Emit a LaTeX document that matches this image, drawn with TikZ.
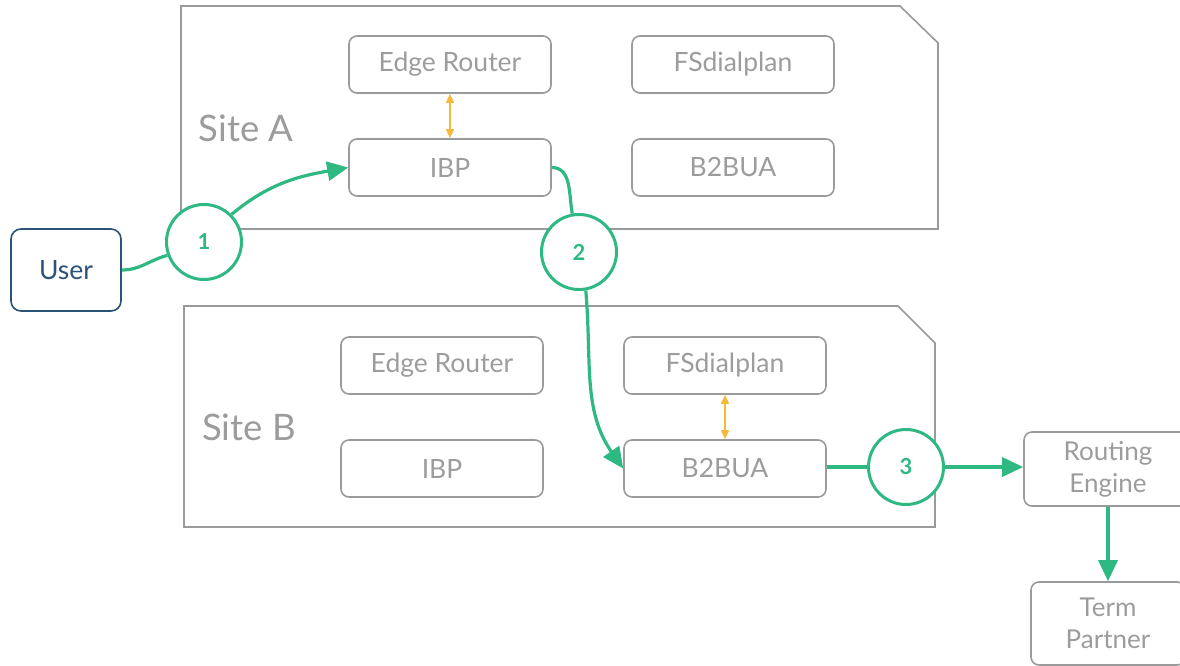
\documentclass[tikz,border=0pt]{standalone}
\usepackage{fontspec}
\setmainfont{Lato}
\usetikzlibrary{arrows.meta}
\definecolor{boxgray}{HTML}{9A9A9A}
\definecolor{txtgray}{HTML}{9C9C9C}
\definecolor{grn}{HTML}{2EB882}
\definecolor{org}{HTML}{F6B93B}
\definecolor{usr}{HTML}{2B5278}
\tikzset{
  comp/.style={draw=boxgray, line width=1.6pt, rounded corners=8pt, minimum width=202pt, minimum height=57pt, inner sep=0pt, text=txtgray, font=\fontsize{26.5}{30}\selectfont, align=center},
  ext/.style={draw=boxgray, line width=1.6pt, rounded corners=8pt, minimum width=168pt, minimum height=74pt, inner sep=0pt, text=txtgray, font=\fontsize{26}{32}\selectfont, align=center},
  site/.style={draw=boxgray, line width=1.6pt},
  sitelbl/.style={text=txtgray, font=\fontsize{36.5}{40}\selectfont, inner sep=0pt},
  step circ/.style={draw=grn, circle, line width=3pt, minimum size=75pt, inner sep=0pt, text=grn, font=\bfseries\fontsize{22}{24}\selectfont, fill=white},
  flow/.style={draw=grn, line width=3.2pt},
  flowarr/.style={draw=grn, line width=3.2pt, -{Triangle[length=21pt,width=19pt]}},
  biarr/.style={draw=org, line width=1.6pt, {Triangle[length=9pt,width=8pt]}-{Triangle[length=9pt,width=8pt]}}
}
\begin{document}
\begin{tikzpicture}[x=1pt,y=-1pt]
\useasboundingbox (0,0) rectangle (1180,665);
% sites
\draw[site] (181,6) -- (900,6) -- (938,43) -- (938,229) -- (181,229) -- cycle;
\draw[site] (184,306) -- (898,306) -- (935,343) -- (935,527) -- (184,527) -- cycle;
\node[sitelbl] (sa) at (246,128) {Site A};
\node[sitelbl] (sb) at (249,427) {Site B};
% site A components
\node[comp] (aer) at (450,64.5) {Edge Router};
\node[comp] (afs) at (733,64.5) {FSdialplan};
\node[comp] (aibp) at (450,167.5) {IBP};
\node[comp] (ab2) at (733,167.5) {B2BUA};
% site B components
\node[comp] (ber) at (442,365.5) {Edge Router};
\node[comp] (bfs) at (725,365.5) {FSdialplan};
\node[comp] (bibp) at (442,468.5) {IBP};
\node[comp] (bb2) at (725,468.5) {B2BUA};
% user
\node[draw=usr, line width=1.6pt, rounded corners=10pt, minimum width=110pt, minimum height=82pt, text=usr, font=\fontsize{26.5}{30}\selectfont] (user) at (66,270) {User};
% external
\node[ext] (re) at (1108,469) {Routing\\Engine};
\node[ext, minimum width=154pt, minimum height=83pt] (tp) at (1108,623.5) {Term\\Partner};
% orange links
\draw[biarr] (aer) -- (aibp);
\draw[biarr] (bfs) -- (bb2);
% step circles
\node[step circ] (c1) at (204,242) {1};
\node[step circ] (c2) at (579,252) {2};
\node[step circ] (c3) at (906,467) {3};
% flows
\draw[flow] (user.east) to[out=0,in=195] (c1.200);
\draw[flowarr] (c1.45) to[out=40,in=190] (aibp.west);
\draw[flow] (aibp.east) to[out=0,in=100] (c2.100);
\draw[flowarr] (c2.-80) to[out=-85,in=125] (bb2.west);
\draw[flow] (c3.west -| bb2.east) -- (c3.west);
\draw[flowarr] (c3.east) -- (c3.east -| re.west);
\draw[flowarr] (re.south) -- (tp.north);
\end{tikzpicture}
\end{document}
